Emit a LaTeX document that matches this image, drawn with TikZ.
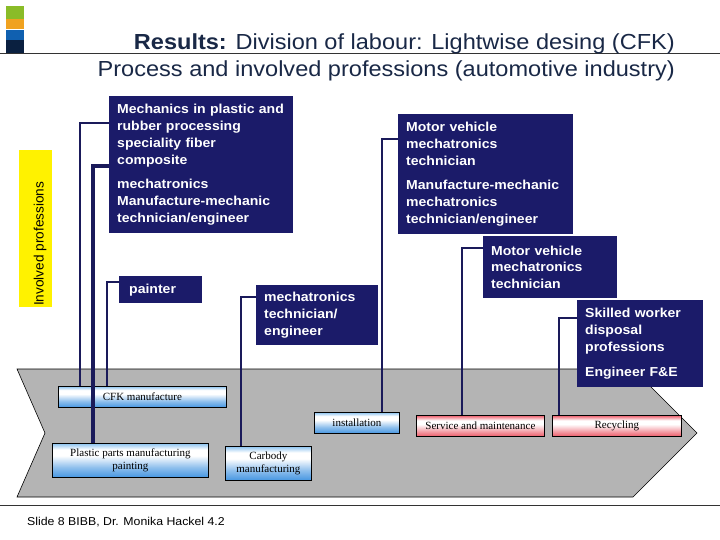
\documentclass[tikz,border=0pt]{standalone}
\usepackage{fontspec}
\setmainfont{Liberation Sans}
\newfontfamily\sansx{Liberation Sans}[FakeStretch=1.08]
\newfontfamily\serifp{Liberation Serif}
\definecolor{navyc}{RGB}{27,27,105}
\definecolor{linec}{RGB}{26,26,90}
\definecolor{titlec}{RGB}{25,40,70}
\definecolor{chevc}{RGB}{180,180,180}
\definecolor{blueT}{RGB}{140,195,240}
\definecolor{blueB}{RGB}{70,150,225}
\definecolor{redT}{RGB}{236,90,104}
\definecolor{redB}{RGB}{236,90,104}
\definecolor{barG}{RGB}{138,188,40}
\definecolor{barO}{RGB}{240,162,32}
\definecolor{barB}{RGB}{16,96,176}
\definecolor{barN}{RGB}{10,32,64}
\pgfdeclareverticalshading{blueproc}{100bp}{color(0bp)=(blueB); color(25bp)=(blueB); color(40bp)=(blueB!60!white); color(57bp)=(white); color(66bp)=(white); color(75bp)=(blueT); color(100bp)=(blueT)}
\pgfdeclareverticalshading{redproc}{100bp}{color(0bp)=(redB); color(25bp)=(redB); color(38bp)=(redB!55!white); color(54bp)=(white); color(63bp)=(white); color(75bp)=(redT); color(100bp)=(redT)}
\begin{document}
\begin{tikzpicture}[x=1pt,y=-1pt,
  navybox/.style={fill=navyc, text=white, font=\sansx\bfseries\fontsize{13}{16.8}\selectfont,
    align=left, anchor=north west, inner xsep=8pt, inner ysep=0pt},
  procbox/.style={draw=black, line width=0.8pt, anchor=north west, inner sep=0pt,
    font=\serifp\fontsize{11}{12.5}\selectfont, align=center},
  procblue/.style={procbox, shading=blueproc},
  procred/.style={procbox, shading=redproc},
  conn/.style={draw=linec, line width=2.6pt},
  connthick/.style={draw=linec, line width=3.2pt},
  rule/.style={draw=black!80, line width=0.9pt}]
\useasboundingbox (0,0) rectangle (720,540);
% colour bar
\fill[barG] (6,6) rectangle (24,19);
\fill[barO] (6,19) rectangle (24,29.5);
\fill[barB] (6,30.5) rectangle (24,40.5);
\fill[barN] (6,40.5) rectangle (24,53);
\draw[rule] (0,53.5) -- (720,53.5);
% title
\node[anchor=base east, inner sep=0pt, text=titlec, font=\sansx\fontsize{21.8}{26}\selectfont] (t1) at (675,50)
  {\textbf{Results:} Division of labour: Lightwise desing (CFK)};
\node[anchor=base east, inner sep=0pt, text=titlec, font=\sansx\fontsize{21.8}{26}\selectfont] (t2) at (675,77)
  {Process and involved professions (automotive industry)};
% yellow side label
\node[fill=yellow, anchor=north west, minimum width=33, minimum height=157, inner sep=0pt] (yb) at (19,150) {};
\node[rotate=90, anchor=west, inner sep=0pt, font=\fontsize{13.6}{15}\selectfont] (yt) at (40,306) {Involved professions};
% chevron
\draw[fill=chevc, draw=black, line width=0.6pt] (17,369) -- (633,369) -- (697,433) -- (633,497) -- (17,497) -- (45,433) -- cycle;
\draw[rule] (0,505) -- (720,505);
\node[anchor=base west, inner sep=0pt, font=\sansx\fontsize{11.4}{13}\selectfont] (foot) at (27,525) {Slide 8 BIBB, Dr. Monika Hackel 4.2};
% professions
\node[navybox, text width=168, minimum height=137] (b1) at (109,96)
  {Mechanics in plastic and\\rubber processing\\speciality fiber\\composite\\[8pt]mechatronics\\Manufacture-mechanic\\technician/engineer};
\node[navybox, text width=159, minimum height=120] (b2) at (398,114)
  {Motor vehicle\\mechatronics\\technician\\[8pt]Manufacture-mechanic\\mechatronics\\technician/engineer};
\node[navybox, text width=118, minimum height=62] (b3) at (483,236)
  {Motor vehicle\\mechatronics\\technician};
\node[navybox, text width=110, minimum height=87] (b4) at (577,300)
  {Skilled worker\\disposal\\professions\\[8pt]Engineer F\&E};
\node[navybox, text width=71, minimum height=27, inner xsep=6pt] (b5) at (119,276) {\hspace*{4pt}painter};
\node[navybox, text width=106, minimum height=60] (b6) at (256,285)
  {mechatronics\\technician/\\engineer};
% process steps
\node[procblue, minimum width=168, minimum height=21] (cfk) at (58,386) {CFK manufacture};
\node[procblue, minimum width=85, minimum height=21] (inst) at (314,412) {installation};
\node[procred, minimum width=128, minimum height=21] (serv) at (416,415) {Service and maintenance};
\node[procred, minimum width=129, minimum height=21] (recy) at (552,415) {Recycling};
\node[procblue, minimum width=156, minimum height=34] (plast) at (52,443) {Plastic parts manufacturing\\painting};
\node[procblue, minimum width=86, minimum height=34] (carb) at (225,446) {Carbody\\manufacturing};
% connectors
\draw[conn] (b1.west |- 0,123) -- (80,123) -- (80,0 |- cfk.north);
\draw[connthick] (b1.west |- 0,166) -- (93,166) -- (93,0 |- plast.north);
\draw[conn] (b5.west |- 0,282) -- (107,282) -- (107,0 |- cfk.north);
\draw[conn] (b6.west |- 0,297) -- (241,297) -- (241,0 |- carb.north);
\draw[conn] (b2.west |- 0,139) -- (382,139) -- (382,0 |- inst.north);
\draw[conn] (b3.west |- 0,248) -- (462,248) -- (462,0 |- serv.north);
\draw[conn] (b4.west |- 0,318) -- (559,318) -- (559,0 |- recy.north);
\end{tikzpicture}
\end{document}
